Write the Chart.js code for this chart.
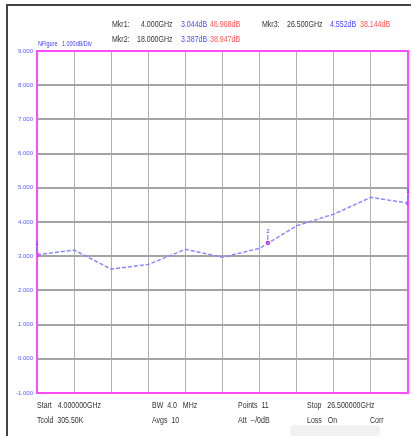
<!DOCTYPE html>
<html>
<head>
<meta charset="utf-8">
<script src="https://cdn.jsdelivr.net/npm/chart.js@4"></script>
<style>
    html, body { margin: 0; padding: 0; background: #fff; }
    #wrap { position: relative; width: 412px; height: 436px; overflow: hidden; }
    #chart { position: absolute; left: 0; top: 0; }
    .frame-top { position: absolute; left: 7px; top: 4px; width: 404px; height: 2px; background: #444; }
    .frame-left { position: absolute; left: 6px; top: 4px; width: 2px; height: 432px; background: #444; }
    .smudge { position: absolute; left: 290px; top: 425px; width: 90px; height: 11px; background: #f1f1f1; border-radius: 4px; }
    .t { position: absolute; font-family: 'Liberation Sans', 'DejaVu Sans', sans-serif; font-size: 9px; color: #333; white-space: pre; line-height: 10px; transform: scaleX(0.78); transform-origin: left center; }
    .blue { color: #4a4aff; }
    .red { color: #ff5a5a; }
    .nf { font-size: 7px; color: #3a3aff; }
</style>
</head>
<body>
<div id="wrap">
    <canvas id="chart" width="412" height="436"></canvas>
    <div class="frame-top"></div>
    <div class="frame-left"></div>
    <div class="smudge"></div>

    <div class="t nf" style="left:38px; top:39px;">NFigure   1.000dB/Div</div>

    <div class="t" style="left:112px; top:19px;">Mkr1:</div>
    <div class="t" style="left:141px; top:19px;">4.000GHz</div>
    <div class="t blue" style="left:181px; top:19px;">3.044dB</div>
    <div class="t red" style="left:210px; top:19px;">46.968dB</div>
    <div class="t" style="left:262px; top:19px;">Mkr3:</div>
    <div class="t" style="left:287px; top:19px;">26.500GHz</div>
    <div class="t blue" style="left:330px; top:19px;">4.552dB</div>
    <div class="t red" style="left:360px; top:19px;">38.144dB</div>

    <div class="t" style="left:112px; top:34px;">Mkr2:</div>
    <div class="t" style="left:137px; top:34px;">18.000GHz</div>
    <div class="t blue" style="left:181px; top:34px;">3.387dB</div>
    <div class="t red" style="left:210px; top:34px;">38.947dB</div>

    <div class="t" style="left:37px; top:400px;">Start   4.000000GHz</div>
    <div class="t" style="left:152px; top:400px;">BW  4.0   MHz</div>
    <div class="t" style="left:238px; top:400px;">Points  11</div>
    <div class="t" style="left:307px; top:400px;">Stop   26.500000GHz</div>
    <div class="t" style="left:37px; top:415px;">Tcold  305.50K</div>
    <div class="t" style="left:152px; top:415px;">Avgs  10</div>
    <div class="t" style="left:238px; top:415px;">Att  --/0dB</div>
    <div class="t" style="left:307px; top:415px;">Loss   On</div>
    <div class="t" style="left:370px; top:415px;">Corr</div>
</div>
<script>
// sweep: 11 points from 4 to 26.5 GHz
const freqGHz = [4, 6.25, 8.5, 10.75, 13, 15.25, 17.5, 19.75, 22, 24.25, 26.5];
const noiseFigure = [3.044, 3.18, 2.62, 2.76, 3.20, 2.97, 3.23, 3.89, 4.23, 4.72, 4.552];

// markers
const markerFreq = [4, 18, 26.5];
const markerNF = [3.044, 3.387, 4.552];
const markerNames = ['1', '2', '3'];

const yMin = -1;
const yMax = 9;

const plotFrame = {
    id: 'plotFrame',
    beforeDatasetsDraw(chart) {
        const { ctx, chartArea } = chart;
        ctx.save();
        ctx.strokeStyle = '#ff4cff';
        ctx.lineWidth = 2;
        ctx.strokeRect(chartArea.left, chartArea.top, chartArea.right - chartArea.left, chartArea.bottom - chartArea.top);
        ctx.restore();
    },
    afterDatasetsDraw(chart) {
        const { ctx } = chart;
        const meta = chart.getDatasetMeta(1);
        ctx.save();
        ctx.fillStyle = '#4a4aff';
        ctx.strokeStyle = '#6a6aff';
        ctx.lineWidth = 1;
        ctx.font = '6px "Liberation Sans", sans-serif';
        ctx.textAlign = 'center';
        meta.data.forEach((pt, i) => {
            ctx.beginPath();
            ctx.moveTo(pt.x, pt.y - 3);
            ctx.lineTo(pt.x, pt.y - 8);
            ctx.stroke();
            ctx.fillText(markerNames[i], pt.x, pt.y - 10);
        });
        ctx.restore();
    }
};

new Chart(document.getElementById('chart').getContext('2d'), {
    type: 'line',
    data: {
        datasets: [{
            label: 'NFigure',
            data: freqGHz.map((f, i) => ({ x: f, y: noiseFigure[i] })),
            borderColor: '#8a8aff',
            borderWidth: 1.5,
            borderDash: [4, 2],
            pointRadius: 0,
            tension: 0
        }, {
            label: 'Markers',
            data: markerFreq.map((f, i) => ({ x: f, y: markerNF[i] })),
            showLine: false,
            pointRadius: 2.2,
            pointBackgroundColor: '#e020e0',
            pointBorderWidth: 0
        }]
    },
    options: {
        responsive: false,
        animation: false,
        layout: { padding: { left: 0, top: 51, right: 3, bottom: 43 } },
        plugins: {
            legend: { display: false },
            tooltip: { enabled: false }
        },
        scales: {
            x: {
                type: 'linear',
                min: 4,
                max: 26.5,
                ticks: { display: false, stepSize: 2.25 },
                grid: { color: '#b0b0b0', lineWidth: 1, drawTicks: false },
                border: { display: false },
                afterFit: (s) => { s.height = 0; }
            },
            y: {
                min: yMin,
                max: yMax,
                ticks: {
                    stepSize: 1,
                    padding: 4,
                    color: '#5a5aff',
                    font: { size: 6, family: "'Liberation Sans', sans-serif" },
                    callback: (v) => v.toFixed(3)
                },
                grid: { color: '#a4a4a4', lineWidth: 2, drawTicks: false },
                border: { display: false },
                afterFit: (s) => { s.width = 37; }
            }
        }
    },
    plugins: [plotFrame]
});
</script>
</body>
</html>
